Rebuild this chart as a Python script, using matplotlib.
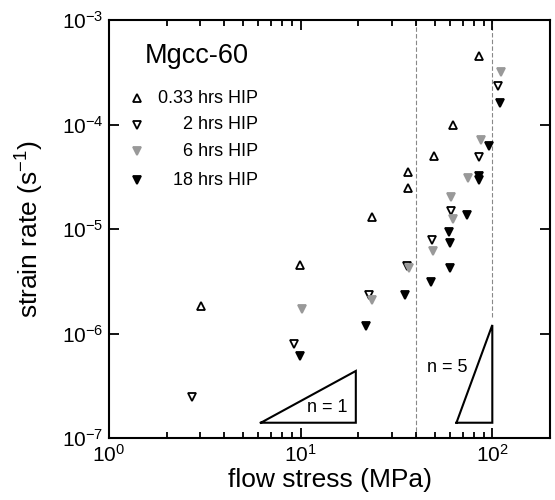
import matplotlib
matplotlib.use("Agg")
import matplotlib.pyplot as plt
from matplotlib.ticker import LogLocator, NullLocator, LogFormatterSciNotation

plt.rcParams['font.family'] = ['Liberation Sans', 'DejaVu Sans']
plt.rcParams['mathtext.fontset'] = 'custom'
plt.rcParams['mathtext.rm'] = 'Liberation Sans'
plt.rcParams['mathtext.it'] = 'Liberation Sans:italic'
plt.rcParams['mathtext.bf'] = 'Liberation Sans:bold'

# flow stress (MPa) and strain rate (1/s) for each HIP time
hip033_stress = [3.03, 9.89, 23.6, 36.4, 36.2, 49.9, 62.6, 84.9]
hip033_rate = [1.83e-6, 4.53e-6, 1.31e-5, 2.45e-5, 3.5e-5, 5.0e-5, 9.9e-5, 4.55e-4]

hip2_stress = [2.71, 9.23, 22.7, 35.9, 48.5, 60.9, 84.9, 106.6]
hip2_rate = [2.48e-7, 7.9e-7, 2.33e-6, 4.46e-6, 7.85e-6, 1.5e-5, 4.85e-5, 2.35e-4]

hip6_stress = [10.2, 23.5, 36.6, 49.3, 62.6, 60.9, 74.7, 87.7, 111.0]
hip6_rate = [1.7e-6, 2.09e-6, 4.2e-6, 6.2e-6, 1.24e-5, 2.04e-5, 3.1e-5, 7.1e-5, 3.2e-4]

hip18_stress = [9.96, 22.0, 35.1, 47.9, 60.4, 60.4, 59.7, 73.5, 85.5, 85.5, 96.5, 110.0]
hip18_rate = [6.1e-7, 1.18e-6, 2.33e-6, 3.13e-6, 4.2e-6, 7.3e-6, 9.4e-6, 1.36e-5,
              2.95e-5, 3.2e-5, 6.2e-5, 1.62e-4]

series_labels = ['0.33 hrs HIP', '2 hrs HIP', '6 hrs HIP', '18 hrs HIP']

# stress-exponent guide triangles
n1_x = [6.2, 19.4]
n1_y0 = 1.4e-7
n5_x = [65.0, 100.0]
n5_y0 = 1.4e-7

fig = plt.figure(figsize=(5.55, 5.0), dpi=100)
ax = fig.add_axes([0.1964, 0.124, 0.7946, 0.836])
ax.set_xscale('log')
ax.set_yscale('log')
ax.set_xlim(1, 200)
ax.set_ylim(1e-7, 1e-3)

styles = [
    dict(marker='^', mfc='white', mec='black'),
    dict(marker='v', mfc='white', mec='black'),
    dict(marker='v', mfc='#999999', mec='#999999'),
    dict(marker='v', mfc='black', mec='black'),
]
data = [(hip033_stress, hip033_rate), (hip2_stress, hip2_rate),
        (hip6_stress, hip6_rate), (hip18_stress, hip18_rate)]

for (xs, ys), st in zip(data, styles):
    ax.plot(xs, ys, ls='none', ms=6, mew=1.3, zorder=3, **st)

# regime boundaries
ax.axvline(40, color='#888888', lw=0.8, ls=(0, (4, 2)), zorder=1)
ax.plot([100, 100], [1.45e-6, 1e-3], color='#888888', lw=0.8, ls=(0, (4, 2)), zorder=1)

# n = 1 triangle
x0, x1 = n1_x
y1 = n1_y0 * (x1 / x0) ** 1
ax.plot([x0, x1, x1, x0], [n1_y0, n1_y0, y1, n1_y0], color='black', lw=1.5,
        solid_joinstyle='miter')
ax.text(13.7, 1.96e-7, 'n = 1', fontsize=13, ha='center', va='center')

# n = 5 triangle
x0, x1 = n5_x
y1 = n5_y0 * (x1 / x0) ** 5
ax.plot([x0, x1, x1, x0], [n5_y0, n5_y0, y1, n5_y0], color='black', lw=1.5,
        solid_joinstyle='miter')
ax.text(58.0, 4.7e-7, 'n = 5', fontsize=13, ha='center', va='center')

# legend
ax.text(0.0816, 0.896, 'Mgcc-60', transform=ax.transAxes, fontsize=19.5,
        ha='left', va='baseline')
leg_y = [0.813, 0.749, 0.686, 0.617]
for yy, st, lab in zip(leg_y, styles, series_labels):
    ax.plot([0.0635], [yy], transform=ax.transAxes, ls='none', ms=5.5, mew=1.3,
            clip_on=False, **st)
    ax.text(0.338, yy, lab, transform=ax.transAxes, fontsize=13,
            ha='right', va='center')

ax.set_xlabel('flow stress (MPa)', fontsize=19, labelpad=2)
ax.set_ylabel(r'strain rate (s$^{\mathregular{-1}}$)', fontsize=19, labelpad=11)

ax.xaxis.set_major_locator(LogLocator(base=10, numticks=10))
ax.xaxis.set_minor_locator(LogLocator(base=10, subs=range(2, 10), numticks=20))
ax.yaxis.set_major_locator(LogLocator(base=10, numticks=10))
ax.yaxis.set_minor_locator(NullLocator())
ax.xaxis.set_major_formatter(LogFormatterSciNotation())
ax.yaxis.set_major_formatter(LogFormatterSciNotation())

ax.tick_params(which='both', direction='in', top=True, right=True, labelsize=15,
               width=1.3)
ax.tick_params(which='major', length=7, pad=4)
ax.tick_params(which='minor', length=4)
for sp in ax.spines.values():
    sp.set_linewidth(1.5)

fig.savefig('out.png', dpi=100)
